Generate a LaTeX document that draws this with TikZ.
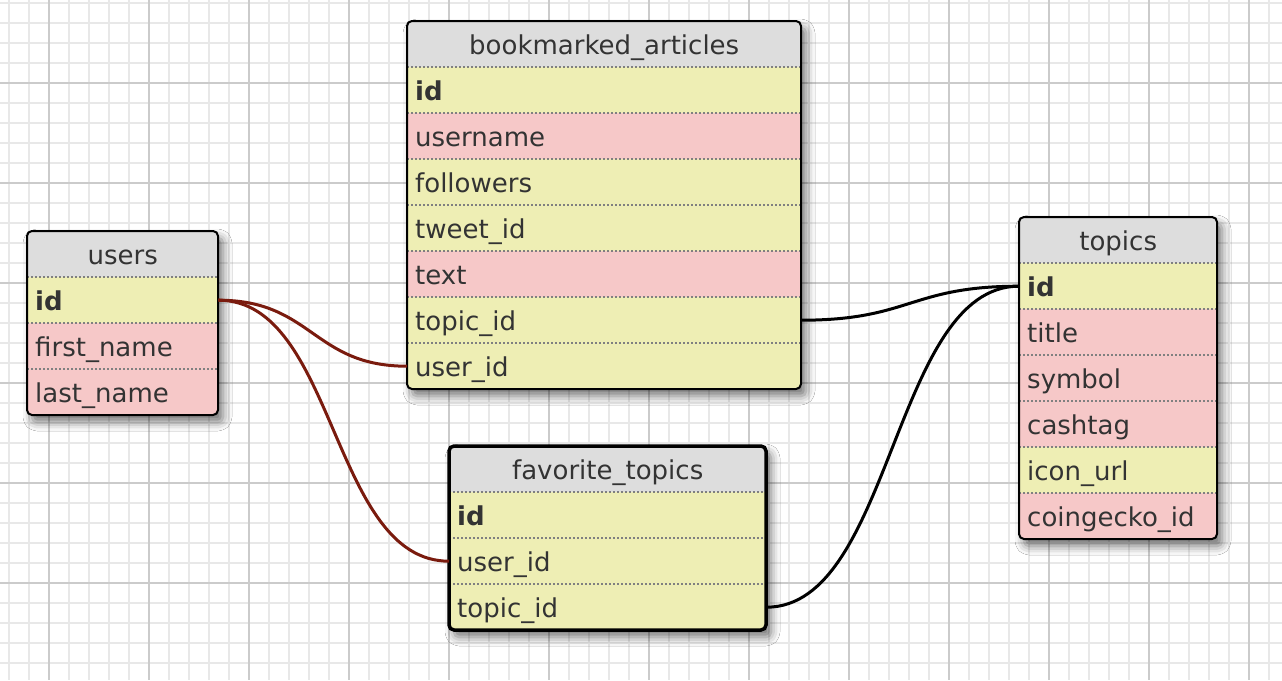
\documentclass[tikz,border=0pt]{standalone}
\usepackage{fontspec}
\setmainfont{DejaVu Sans}
\usetikzlibrary{shadows.blur}
\definecolor{gridminor}{HTML}{E8E8E8}
\definecolor{gridmajor}{HTML}{CBCBCB}
\definecolor{rowY}{HTML}{EEEEB4}
\definecolor{rowP}{HTML}{F6C8C8}
\definecolor{hdrG}{HTML}{DDDDDD}
\definecolor{txt}{HTML}{333333}
\definecolor{sepG}{HTML}{808080}
\definecolor{relred}{HTML}{7A1B0E}
\tikzset{
  cell/.style={inner xsep=8pt, inner ysep=0pt, minimum height=46pt, text height=20pt, text depth=0pt,
    font=\fontsize{26}{30}\selectfont, text=txt, align=left, anchor=north west},
  hdr/.style={cell, fill=hdrG, align=center},
  sepline/.style={sepG, line width=2pt, dash pattern=on 2pt off 2pt},
  tabborder/.style={draw=black, line width=2pt, rounded corners=5pt},
  tabshadow/.style={fill=white, rounded corners=5pt, blur shadow={shadow xshift=5pt, shadow yshift=-7pt, shadow blur radius=9pt, shadow opacity=55}},
  relline/.style={line width=3pt},
}
\newcommand\erdtable[7]{%
  \pgfmathsetmacro\tabw{#4-16}%
  \pgfmathsetmacro\tabh{46*(#5+1)}%
  \path[tabshadow] (#2,#3) rectangle ++(#4,\tabh);
  \begin{scope}
    \clip[rounded corners=5pt] (#2,#3) rectangle ++(#4,\tabh);
    \node[hdr, text width=\tabw pt] (#1-h) at (#2,#3) {#6};
    \foreach \c/\t [count=\i] in {#7} {
      \node[cell, fill=\c, text width=\tabw pt] (#1-\i) at (#2,{#3+46*\i}) {\t};
      \draw[sepline] (#2,{#3+46*\i}) -- ++(#4,0);
    }
  \end{scope}
  \draw[tabborder,#1border] (#2,#3) rectangle ++(#4,\tabh);
}
\tikzset{usersborder/.style={}, baborder/.style={}, topicsborder/.style={}, favborder/.style={line width=3.5pt}}
\begin{document}
\begin{tikzpicture}[x=1pt,y=-1pt]
\useasboundingbox (0,0) rectangle (1282,680);
\fill[white] (0,0) rectangle (1282,680);
% grid
\foreach \k in {0,...,63} \draw[gridminor, line width=2.2pt] ({9.3+20*\k},0) -- ({9.3+20*\k},680);
\foreach \k in {0,...,33} \draw[gridminor, line width=2.2pt] (0,{2.7+20*\k}) -- (1282,{2.7+20*\k});
\foreach \k in {0,...,12} \draw[gridmajor, line width=2.2pt] ({49.3+100*\k},0) -- ({49.3+100*\k},680);
\foreach \k in {0,...,5} \draw[gridmajor, line width=2.2pt] (0,{82.7+100*\k}) -- (1282,{82.7+100*\k});
% tables
\erdtable{ba}{407}{21}{394}{7}{bookmarked\_articles}{rowY/\textbf{id}, rowP/username, rowY/followers, rowY/tweet\_id, rowP/text, rowY/topic\_id, rowY/user\_id}
\erdtable{users}{27}{231}{191}{3}{users}{rowY/\textbf{id}, rowP/first\_name, rowP/last\_name}
\erdtable{topics}{1019}{217}{198}{6}{topics}{rowY/\textbf{id}, rowP/title, rowP/symbol, rowP/cashtag, rowY/icon\_url, rowP/coingecko\_id}
\erdtable{fav}{449}{446}{317}{3}{favorite\_topics}{rowY/\textbf{id}, rowY/user\_id, rowY/topic\_id}
% relations
\draw[relline, relred] (users-1.east) .. controls +(94,0) and +(-94,0) .. (ba-7.west);
\draw[relline, relred] (users-1.east) .. controls +(118,0) and +(-118,0) .. (fav-2.west);
\draw[relline, black] (ba-6.east) .. controls +(109,0) and +(-109,0) .. (topics-1.west);
\draw[relline, black] (fav-3.east) .. controls +(126,0) and +(-126,0) .. (topics-1.west);
\end{tikzpicture}
\end{document}
